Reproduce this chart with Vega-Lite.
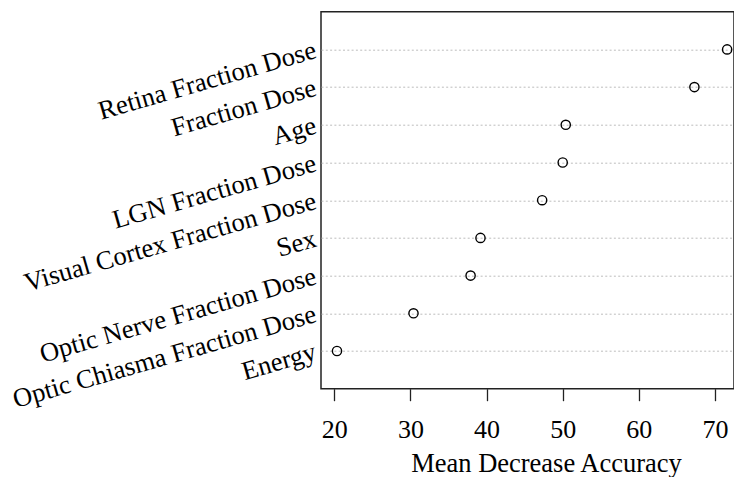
{
  "$schema": "https://vega.github.io/schema/vega-lite/v6.json",
  "autosize": "none",
  "padding": {"left": 321, "top": 11.7, "right": 0, "bottom": 88},
  "width": 413,
  "height": 377,
  "background": "white",
  "config": {
    "font": "Liberation Serif",
    "view": {"stroke": "#222222", "strokeWidth": 1.5}
  },
  "data": {
    "values": [
      {"variable": "Retina Fraction Dose", "value": 71.6},
      {"variable": "Fraction Dose", "value": 67.3},
      {"variable": "Age", "value": 50.4},
      {"variable": "LGN Fraction Dose", "value": 50.0},
      {"variable": "Visual Cortex Fraction Dose", "value": 47.3},
      {"variable": "Sex", "value": 39.2},
      {"variable": "Optic Nerve Fraction Dose", "value": 37.9},
      {"variable": "Optic Chiasma Fraction Dose", "value": 30.4},
      {"variable": "Energy", "value": 20.35}
    ]
  },
  "mark": {"type": "point", "shape": "circle", "filled": false, "stroke": "black", "strokeWidth": 1.4, "size": 85, "opacity": 1},
  "encoding": {
    "x": {
      "field": "value",
      "type": "quantitative",
      "scale": {"domain": [18.25, 72.5], "nice": false, "zero": false},
      "axis": {
        "title": "Mean Decrease Accuracy",
        "values": [20, 30, 40, 50, 60, 70],
        "grid": false,
        "domain": false,
        "ticks": true,
        "tickSize": 12,
        "tickColor": "#222222",
        "tickWidth": 1.3,
        "labelFontSize": 26,
        "labelColor": "black",
        "labelPadding": 16,
        "labelFont": "Liberation Serif",
        "titleFont": "Liberation Serif",
        "titleFontSize": 26.5,
        "titleFontWeight": "normal",
        "titleColor": "black",
        "titlePadding": 8,
        "titleX": 225,
        "titleAlign": "center"
      }
    },
    "y": {
      "field": "variable",
      "type": "nominal",
      "sort": null,
      "scale": {"type": "point", "padding": 1},
      "axis": {
        "title": null,
        "domain": false,
        "ticks": false,
        "grid": true,
        "gridColor": "#bdbdbd",
        "gridDash": [2, 2.3],
        "gridWidth": 1,
        "labelAngle": -16,
        "labelFontSize": 26.5,
        "labelFont": "Liberation Serif",
        "labelColor": "black",
        "labelPadding": 6,
        "labelOverlap": false,
        "labelBound": false,
        "labelLimit": 0
      }
    }
  }
}
